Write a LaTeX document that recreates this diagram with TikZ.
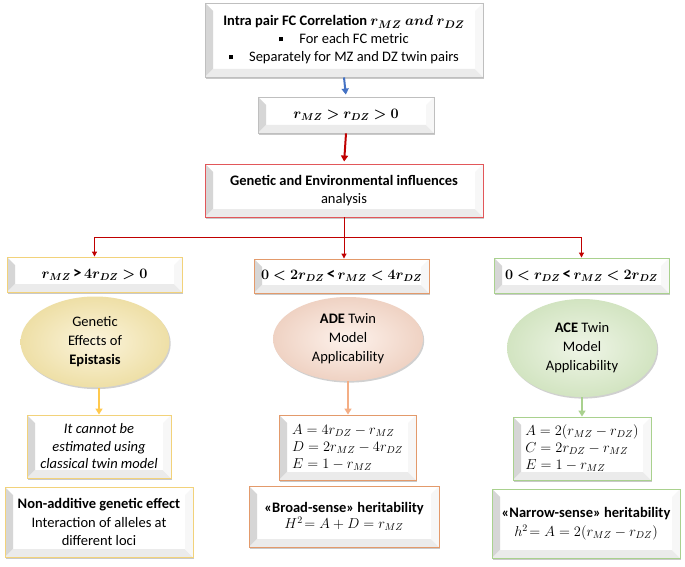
\documentclass[tikz,border=0pt]{standalone}
\usepackage{amsmath,amssymb,bm}
\usepackage[no-math]{fontspec}
\setmainfont{Carlito}
\usetikzlibrary{shapes.geometric,shadows,arrows.meta}
\definecolor{cblue}{HTML}{4472C4}
\definecolor{cred}{HTML}{C00000}
\definecolor{credb}{HTML}{E2575A}
\definecolor{cgray}{HTML}{BFBFBF}
\definecolor{cyel}{HTML}{F2D27A}
\definecolor{cyelA}{HTML}{FFC94D}
\definecolor{cora}{HTML}{E39A6B}
\definecolor{coraA}{HTML}{F4AE85}
\definecolor{cgrn}{HTML}{A9D18E}
\definecolor{yin}{HTML}{FBF4DC}
\definecolor{yout}{HTML}{EEDFA6}
\definecolor{oin}{HTML}{FDF2EC}
\definecolor{oout}{HTML}{EFD2C3}
\definecolor{gin}{HTML}{EFF5E7}
\definecolor{gout}{HTML}{D2E4C1}
\tikzset{
  bevel/.style={path picture={
    \fill[black!16] (path picture bounding box.south west) -- (path picture bounding box.north west)
      -- ([xshift=8pt,yshift=-8pt]path picture bounding box.north west)
      -- ([xshift=8pt,yshift=8pt]path picture bounding box.south west) -- cycle;
    \fill[black!8] (path picture bounding box.south west) -- ([xshift=8pt,yshift=8pt]path picture bounding box.south west)
      -- ([xshift=-8pt,yshift=8pt]path picture bounding box.south east) -- (path picture bounding box.south east) -- cycle;
    \fill[black!3] (path picture bounding box.south east) -- ([xshift=-8pt,yshift=8pt]path picture bounding box.south east)
      -- ([xshift=-8pt,yshift=-8pt]path picture bounding box.north east) -- (path picture bounding box.north east) -- cycle;
  }},
  bx/.style={rectangle, draw=#1, line width=0.9pt, fill=white, inner sep=0pt, align=center, bevel,
    drop shadow={shadow xshift=1.2pt, shadow yshift=-1.6pt, opacity=0.35, fill=black!60}},
  ell/.style 2 args={ellipse, inner sep=0pt, align=center, shading=radial, inner color=#1, outer color=#2,
    font=\fontsize{14.5}{19}\selectfont,
    drop shadow={shadow xshift=1.2pt, shadow yshift=-1.6pt, opacity=0.3, fill=black!60}},
  redln/.style={cred, line width=1pt},
  redarr/.style={cred, line width=1pt, -{Triangle[width=5pt,length=5pt]}},
  fatarr/.style={#1, line width=2pt, -{Triangle[width=7pt,length=6pt]}},
}
\newcommand{\mybul}{\rule[2.5pt]{4pt}{4pt}\hspace{16pt}}
\newcommand{\fm}{\fontsize{14.5}{18}\selectfont}
\newcommand{\tl}{\,{\fontsize{17}{18}\selectfont\textbf{<}}\,}
\newcommand{\tg}{\,{\fontsize{17}{18}\selectfont\textbf{>}}\,}
\begin{document}
\begin{tikzpicture}[x=1pt, y=-1pt, font=\fontsize{14.5}{18}\selectfont]
\useasboundingbox[fill=white] (0,0) rectangle (685,567);

\node[bx=cgray, minimum width=278pt, minimum height=74pt] (top) at (344,40)
  {\textbf{Intra pair FC Correlation} {\fontsize{15.5}{18}\selectfont$\bm{r_{MZ}\ and\ r_{DZ}}$}\\
   \mybul For each FC metric\\
   \mybul Separately for MZ and DZ twin pairs};

\node[bx=cgray, minimum width=176pt, minimum height=36pt] (r) at (346,115)
  {$\bm{r_{MZ} > r_{DZ} > 0}$};

\node[bx=credb, minimum width=278pt, minimum height=53pt] (ge) at (344,190.5)
  {\textbf{Genetic and Environmental influences}\\analysis};

\node[bx=cyel, minimum width=175pt, minimum height=35pt] (l1) at (94.5,274.5)
  {$\bm{r_{MZ}}$\tg$\bm{4r_{DZ} > 0}$};
\node[bx=cora, minimum width=175pt, minimum height=34pt] (m1) at (341.5,276)
  {$\bm{0 < 2r_{DZ}}$\tl$\bm{r_{MZ} < 4r_{DZ}}$};
\node[bx=cgrn, minimum width=175pt, minimum height=35pt] (r1) at (581.5,275.5)
  {$\bm{0 < r_{DZ}}$\tl$\bm{r_{MZ} < 2r_{DZ}}$};

\node[ell={yin}{yout}, minimum width=149pt, minimum height=91pt] (el) at (95,342)
  {Genetic\\Effects of\\\textbf{Epistasis}};
\node[ell={oin}{oout}, minimum width=150pt, minimum height=84pt] (em) at (348,339)
  {\textbf{ADE} Twin\\Model\\Applicability};
\node[ell={gin}{gout}, minimum width=150pt, minimum height=98pt] (er) at (582,348)
  {\textbf{ACE} Twin\\Model\\Applicability};

\node[bx=cyel, minimum width=144pt, minimum height=63pt, font=\fontsize{14.5}{17.5}\selectfont\itshape] (l2) at (99,446.5)
  {It cannot be\\estimated using\\classical twin model};
\node[bx=cora, minimum width=137pt, minimum height=65pt] (m2) at (347.5,447.5)
  {\begin{tabular}{@{}l@{}}\fm$A = 4r_{DZ} - r_{MZ}$\\[-1pt]
   \fm$D = 2r_{MZ} - 4r_{DZ}$\\[-1pt]
   \fm$E = 1 - r_{MZ}$\end{tabular}};
\node[bx=cgrn, minimum width=138pt, minimum height=63pt] (r2) at (582,448.5)
  {\begin{tabular}{@{}l@{}}\fm$A = 2(r_{MZ} - r_{DZ})$\\[-1pt]
   \fm$C = 2r_{DZ} - r_{MZ}$\\[-1pt]
   \fm$E = 1 - r_{MZ}$\end{tabular}};

\node[bx=cyel, minimum width=188pt, minimum height=70pt, font=\fontsize{14.5}{18.5}\selectfont] (l3) at (99,522)
  {\textbf{Non-additive genetic effect}\\Interaction of alleles at\\different loci};
\node[bx=cora, minimum width=190pt, minimum height=61pt] (m3) at (344,516.5)
  {\textbf{«Broad-sense» heritability}\\[-2pt]{\fm$H^2\!= A + D = r_{MZ}$}};
\node[bx=cgrn, minimum width=188pt, minimum height=69pt] (r3) at (586,523.5)
  {\textbf{«Narrow-sense» heritability}\\[1pt]{\fm$h^2\!= A = 2(r_{MZ} - r_{DZ})$}};

\coordinate (j) at (344,237);

\draw[fatarr=cblue, shorten >=2pt] (top.south) -- (r.north);
\draw[fatarr=cred, shorten >=2pt] (r.south) -- (ge.north);
\draw[redln] (ge.south) -- (j);
\draw[redarr] (j) -- (j |- m1.north);
\draw[redarr] (j) -| (l1.north);
\draw[redarr] (j) -| (r1.north);

\draw[fatarr=cyelA] (l2.north |- el.south) -- (l2.north);
\draw[fatarr=coraA] (em.south) -- (em.south |- m2.north);
\draw[fatarr=cgrn] (er.south) -- (er.south |- r2.north);
\end{tikzpicture}
\end{document}
